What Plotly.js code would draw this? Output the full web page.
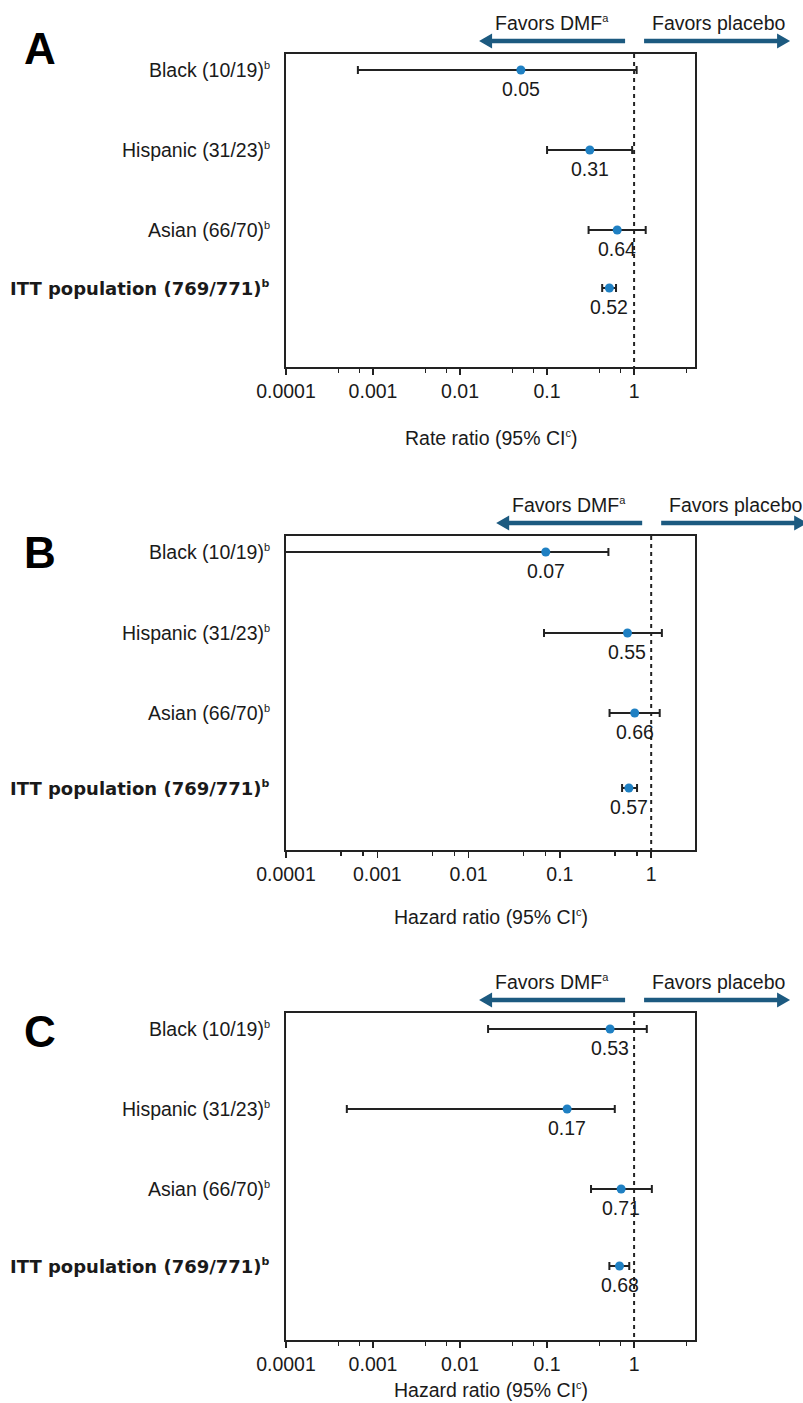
<!DOCTYPE html>
<html><head><meta charset="utf-8">
<script src="https://cdn.plot.ly/plotly-3.0.1.min.js"></script>
<style>html,body{margin:0;padding:0;background:#fff}</style>
</head><body><div id="chart" style="width:803px;height:1403px"></div>
<script>
// ---------- data ----------
const groups = ['Black (10/19)', 'Hispanic (31/23)', 'Asian (66/70)', 'ITT population (769/771)'];
const groupNote = 'b';
const panelLetters = ['A', 'B', 'C'];
const axisTitles = ['Rate ratio (95% CI', 'Hazard ratio (95% CI', 'Hazard ratio (95% CI'];
const axisTitleNote = 'c';
const favorsLabels = ['Favors DMF', 'Favors placebo'];
const favorsNote = 'a';

const estA  = [0.05, 0.31, 0.64, 0.52];
const lowA  = [0.00067, 0.10, 0.30, 0.43];
const highA = [1.07, 0.95, 1.36, 0.62];

const estB  = [0.07, 0.55, 0.66, 0.57];
const lowB  = [0.00005, 0.067, 0.35, 0.48];
const highB = [0.34, 1.31, 1.24, 0.70];

const estC  = [0.53, 0.17, 0.71, 0.68];
const lowC  = [0.021, 0.0005, 0.32, 0.52];
const highC = [1.40, 0.60, 1.60, 0.88];

const tickVals = [0.0001, 0.001, 0.01, 0.1, 1];
const tickText = ['0.0001', '0.001', '0.01', '0.1', '1'];
const minorTickVals = [0.0004, 0.0007, 0.004, 0.007, 0.04, 0.07, 0.4, 0.7, 4];

// ---------- layout geometry (pixels) ----------
const W = 803, H = 1403;
const plotLeft = 286, plotRight = 695;
const panels = [
  {est: estA, low: lowA, high: highA, top: 54,   bottom: 367,  xmax: 0.70, rows: [16, 96, 176, 234], letterY: 49,   titleY: 438},
  {est: estB, low: lowB, high: highB, top: 536,  bottom: 850,  xmax: 0.48, rows: [16, 97, 177, 252], letterY: 552,  titleY: 917},
  {est: estC, low: lowC, high: highC, top: 1013, bottom: 1340, xmax: 0.70, rows: [16, 96, 176, 253], letterY: 1031, titleY: 1390}
];

const FONT = 'Liberation Sans, Arial, Helvetica, sans-serif';
const TXT = '#1a1a1a';
const LINE = '#222222';
const DOT = '#1f80c3';
const ARROW = '#1c5a80';
const FS = 19.5;
const sup = s => '<sup><span style="font-size:11px">' + s + '</span></sup>';

const data = [];
const annotations = [];
const shapes = [];
const layout = {
  width: W, height: H,
  margin: {l: 0, r: 0, t: 0, b: 0, pad: 0},
  paper_bgcolor: '#fff', plot_bgcolor: '#fff',
  showlegend: false,
  font: {family: FONT, size: FS, color: TXT},
  annotations: annotations,
  shapes: shapes
};

const px = v => v / W;          // pixel x -> paper
const py = v => 1 - v / H;      // pixel y -> paper

function arrowShape(tailX, tipX, y) {
  const dir = Math.sign(tipX - tailX);
  const headLen = 13, headHalf = 7.5, shaftHalf = 2.3;
  const baseX = tipX - dir * headLen;
  const d = 'M' + px(tailX) + ',' + py(y - shaftHalf) +
    ' L' + px(baseX) + ',' + py(y - shaftHalf) +
    ' L' + px(baseX) + ',' + py(y - headHalf) +
    ' L' + px(tipX) + ',' + py(y) +
    ' L' + px(baseX) + ',' + py(y + headHalf) +
    ' L' + px(baseX) + ',' + py(y + shaftHalf) +
    ' L' + px(tailX) + ',' + py(y + shaftHalf) + ' Z';
  return {type: 'path', xref: 'paper', yref: 'paper', path: d, fillcolor: ARROW, line: {width: 0}, layer: 'above'};
}

panels.forEach((p, i) => {
  const sfx = i === 0 ? '' : String(i + 1);
  const xa = 'x' + sfx, ya = 'y' + sfx;
  const h = p.bottom - p.top;

  layout['xaxis' + sfx] = {
    type: 'log', range: [-4, p.xmax], domain: [plotLeft / W, plotRight / W], anchor: ya,
    tickmode: 'array', tickvals: tickVals, ticktext: tickText,
    ticks: 'outside', ticklen: 6, tickwidth: 1.5, tickcolor: LINE,
    tickfont: {family: FONT, size: FS, color: TXT},
    minor: {tickmode: 'array', tickvals: minorTickVals, ticks: 'outside', ticklen: 4, tickwidth: 1.5, tickcolor: LINE, showgrid: false},
    showline: true, linewidth: 2, linecolor: LINE, mirror: true,
    showgrid: false, zeroline: false, fixedrange: true
  };
  layout['yaxis' + sfx] = {
    range: [h, 0], domain: [1 - p.bottom / H, 1 - p.top / H], anchor: xa,
    showline: true, linewidth: 2, linecolor: LINE, mirror: true,
    showticklabels: false, ticks: '', showgrid: false, zeroline: false, fixedrange: true
  };

  // reference line at 1
  data.push({
    type: 'scatter', mode: 'lines', x: [1, 1], y: [0, h], xaxis: xa, yaxis: ya,
    line: {color: LINE, width: 2, dash: '4px,4px'}, hoverinfo: 'skip'
  });

  // estimates with CI
  data.push({
    type: 'scatter', mode: 'markers', x: p.est, y: p.rows, xaxis: xa, yaxis: ya,
    marker: {color: DOT, size: 9},
    error_x: {
      type: 'data', symmetric: false,
      array: p.est.map((v, k) => p.high[k] - v),
      arrayminus: p.est.map((v, k) => v - p.low[k]),
      color: LINE, thickness: 2, width: 4
    }
  });

  // value labels
  p.est.forEach((v, k) => {
    annotations.push({
      xref: xa, yref: ya, x: Math.log10(v), y: p.rows[k], yshift: -19,
      text: v.toFixed(2), showarrow: false, xanchor: 'center', yanchor: 'middle',
      font: {family: FONT, size: FS, color: TXT}
    });
  });

  // row labels
  groups.forEach((g, k) => {
    const bold = k === groups.length - 1;
    annotations.push({
      xref: 'paper', yref: ya, x: 272 / W, y: p.rows[k],
      text: bold ? '<b>' + g + sup(groupNote) + '</b>' : g + sup(groupNote),
      showarrow: false, xanchor: 'right', yanchor: 'middle',
      font: bold ? {family: 'DejaVu Sans, sans-serif', size: 18, color: TXT} : {family: FONT, size: FS, color: TXT}
    });
  });

  // panel letter
  annotations.push({
    xref: 'paper', yref: 'paper', x: 40 / W, y: py(p.letterY),
    text: '<b>' + panelLetters[i] + '</b>', showarrow: false, xanchor: 'center', yanchor: 'middle',
    font: {family: FONT, size: 44, color: '#000'}
  });

  // axis title
  annotations.push({
    xref: 'paper', yref: 'paper', x: px((plotLeft + plotRight) / 2), y: py(p.titleY),
    text: axisTitles[i] + sup(axisTitleNote) + ')', showarrow: false, xanchor: 'center', yanchor: 'middle',
    font: {family: FONT, size: FS, color: TXT}
  });

  // favors labels and arrows, placed around x = 1 on the axis scale
  const oneX = plotLeft + (0 - (-4)) / (p.xmax + 4) * (plotRight - plotLeft);
  annotations.push({
    xref: xa, yref: ya + ' domain', x: 0, y: 1, xshift: -82, yshift: 31,
    text: favorsLabels[0] + sup(favorsNote), showarrow: false, xanchor: 'center', yanchor: 'middle',
    font: {family: FONT, size: FS, color: TXT}
  });
  annotations.push({
    xref: xa, yref: ya + ' domain', x: 0, y: 1, xshift: 84, yshift: 31,
    text: favorsLabels[1], showarrow: false, xanchor: 'center', yanchor: 'middle',
    font: {family: FONT, size: FS, color: TXT}
  });
  const arrowY = p.top - 13;
  shapes.push(arrowShape(oneX - 9, oneX - 155, arrowY));
  shapes.push(arrowShape(oneX + 10, oneX + 156, arrowY));
});

Plotly.newPlot('chart', data, layout, {staticPlot: true, displayModeBar: false});
</script>
</body></html>
